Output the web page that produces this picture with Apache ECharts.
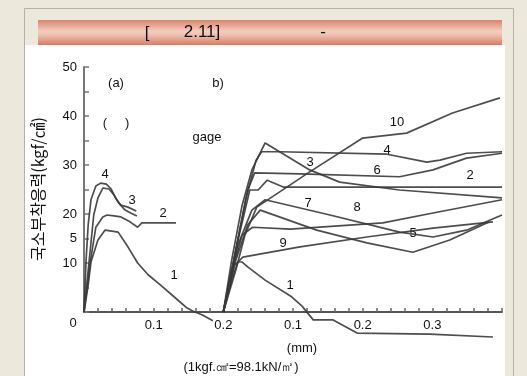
<!DOCTYPE html>
<html>
<head>
<meta charset="utf-8">
<script src="https://cdn.jsdelivr.net/npm/echarts@6/dist/echarts.min.js"></script>
<style>
  html, body { margin: 0; padding: 0; background: #ece8dc; }
  #chart { width: 527px; height: 376px; }
</style>
</head>
<body>
<div id="chart"></div>
<script>
// axis ticks (x: left panel 0-0.2, right panel restarts at 0.2)
const xTickValues = [0.1, 0.2, 0.3, 0.4, 0.5];
const xTickLabels = ['0.1', '0.2', '0.1', '0.2', '0.3'];
const yTickValues = [10, 15, 20, 30, 40, 50];
const yTickLabels = ['10', '5', '20', '30', '40', '50'];

// (a) left panel gages
const left1 = [[0,0],[0.006,5.5],[0.010,10.2],[0.020,14.7],[0.030,16.7],[0.040,16.5],[0.049,16.3],[0.063,13.3],[0.077,10.0],[0.092,7.6],[0.110,5.5],[0.135,2.4],[0.148,0.8],[0.156,0.2],[0.170,-0.6],[0.185,-1.8]];
const left2 = [[0,0],[0.009,10.2],[0.017,17.3],[0.027,19.4],[0.033,19.8],[0.043,19.6],[0.053,19.4],[0.066,18.4],[0.077,17.3],[0.083,18.2],[0.132,18.2]];
const left3 = [[0,0],[0.009,12.7],[0.014,19.8],[0.020,23.3],[0.027,25.3],[0.036,25.1],[0.043,23.9],[0.050,22.2],[0.059,20.8],[0.067,20.2],[0.076,19.6]];
const left4 = [[0,0],[0.003,10.6],[0.006,17.8],[0.010,22.9],[0.017,25.7],[0.024,26.3],[0.032,26.1],[0.039,25.1],[0.046,23.1],[0.053,21.8],[0.063,21.4],[0.075,20.6]];

// (b) right panel gages
const right1 = [[0.2,0],[0.209,5.5],[0.215,9.4],[0.221,10.2],[0.227,10.2],[0.235,9.2],[0.260,6.5],[0.298,3.1],[0.313,1.2],[0.329,-1.6],[0.357,-1.6],[0.392,-4.3],[0.496,-4.5],[0.587,-5.1]];
const right2 = [[0.2,0],[0.221,14.7],[0.238,24.9],[0.250,24.9],[0.263,26.9],[0.286,25.5],[0.453,25.5],[0.600,25.5]];
const right3 = [[0.2,0],[0.212,10.6],[0.227,21.8],[0.241,29.0],[0.260,34.5],[0.324,29.0],[0.367,26.5],[0.453,24.9],[0.600,23.3]];
const right4 = [[0.2,0],[0.215,10.6],[0.232,22.9],[0.247,31.0],[0.255,32.7],[0.281,32.7],[0.435,32.2],[0.492,30.6],[0.511,31.0],[0.549,32.4],[0.600,32.7]];
const right5 = [[0.2,0],[0.218,10.6],[0.235,17.8],[0.253,20.8],[0.334,16.7],[0.406,14.1],[0.472,12.2],[0.525,14.7],[0.582,18.4]];
const right6 = [[0.2,0],[0.218,12.7],[0.235,24.9],[0.245,28.4],[0.310,28.2],[0.453,27.6],[0.501,29.0],[0.549,31.4],[0.600,32.4]];
const right7 = [[0.2,0],[0.221,13.7],[0.241,20.8],[0.260,22.9],[0.353,19.8],[0.453,16.3],[0.501,15.3],[0.549,16.7],[0.600,19.8]];
const right8 = [[0.2,0],[0.215,9.6],[0.227,15.7],[0.242,17.3],[0.296,16.9],[0.429,18.2],[0.501,20.2],[0.600,22.9]];
const right9 = [[0.2,0],[0.212,6.5],[0.221,10.2],[0.228,11.2],[0.310,13.3],[0.406,15.3],[0.501,17.1],[0.587,18.4]];
const right10 = [[0.2,0],[0.218,8.6],[0.231,15.7],[0.248,21.4],[0.324,28.6],[0.400,35.5],[0.463,36.5],[0.529,40.6],[0.597,43.7]];

const allCurves = [left1, left2, left3, left4, right1, right2, right3, right4, right5, right6, right7, right8, right9, right10];

const latin = 'Liberation Sans, Arial, sans-serif';

function tickText(list, labels, v) {
  for (let i = 0; i < list.length; i++) {
    if (Math.abs(list[i] - v) < 1e-6) return labels[i];
  }
  return '';
}

function txt(x, y, s, size) {
  return {
    type: 'text', x: x, y: y, silent: true,
    style: { text: s, fill: '#111', font: (size || 13) + 'px ' + latin, align: 'center', verticalAlign: 'middle' }
  };
}

const chart = echarts.init(document.getElementById('chart'));

chart.setOption({
  backgroundColor: '#ece8dc',
  animation: false,
  grid: { left: 84, top: 67, width: 418, height: 245 },
  xAxis: {
    type: 'value', min: 0, max: 0.6, interval: 0.02,
    axisLine: { lineStyle: { color: '#555', width: 2 } },
    axisTick: { inside: true, length: 4, lineStyle: { color: '#666', width: 1.5 } },
    axisLabel: {
      margin: 7, color: '#111', fontSize: 13, fontFamily: latin,
      formatter: v => tickText(xTickValues, xTickLabels, v)
    },
    splitLine: { show: false }
  },
  yAxis: {
    type: 'value', min: 0, max: 50, interval: 5,
    axisLine: { show: true, lineStyle: { color: '#777', width: 2 } },
    axisTick: { show: true, inside: true, length: 5, lineStyle: { color: '#777', width: 1.5 } },
    axisLabel: {
      margin: 7, color: '#111', fontSize: 13, fontFamily: latin,
      formatter: v => tickText(yTickValues, yTickLabels, v)
    },
    splitLine: { show: false }
  },
  graphic: [
    { type: 'rect', z: -10, shape: { x: 24.5, y: 8.5, width: 489, height: 380 },
      style: { fill: '#ece8dc', stroke: '#b3b1a8', lineWidth: 1 }, silent: true },
    { type: 'rect', z: -9, shape: { x: 25, y: 45, width: 480, height: 340 },
      style: { fill: '#ffffff' }, silent: true },
    { type: 'rect', z: -8, shape: { x: 38, y: 20, width: 464, height: 25 },
      style: {
        fill: new echarts.graphic.LinearGradient(0, 0, 0, 1, [
          { offset: 0, color: '#d9846b' },
          { offset: 0.45, color: '#f3cdc0' },
          { offset: 0.6, color: '#efc0b1' },
          { offset: 1, color: '#d87c63' }
        ])
      }, silent: true },
    txt(147, 33, '[', 17),
    txt(202, 32, '2.11]', 17),
    txt(323, 32, '-', 17),
    {
      type: 'text', x: 38, y: 189, rotation: Math.PI / 2, silent: true,
      style: { text: '국소부착응력(kgf/㎠)', fill: '#111', font: '16px "Noto Sans CJK KR", sans-serif', align: 'center', verticalAlign: 'middle' }
    },
    txt(73, 323, '0'),
    txt(116, 83, '(a)'),
    txt(218, 83, 'b)'),
    txt(116, 123, '(     )'),
    txt(207, 137, 'gage'),
    txt(105, 174, '4'), txt(132, 200, '3'), txt(163, 213, '2'), txt(174, 275, '1'),
    txt(397, 122, '10'), txt(387, 150, '4'), txt(310, 162, '3'), txt(377, 170, '6'),
    txt(470, 175, '2'), txt(308, 203, '7'), txt(357, 207, '8'), txt(413, 233, '5'),
    txt(283, 243, '9'), txt(290, 285, '1'),
    txt(302, 348, '(mm)'),
    txt(241, 367, '(1kgf.㎠=98.1kN/㎡)')
  ],
  series: allCurves.map(d => ({
    type: 'line', data: d, symbol: 'none', clip: false, silent: true,
    lineStyle: { color: '#3a3a3a', width: 1.7, opacity: 0.9 }
  }))
});
</script>
</body>
</html>
